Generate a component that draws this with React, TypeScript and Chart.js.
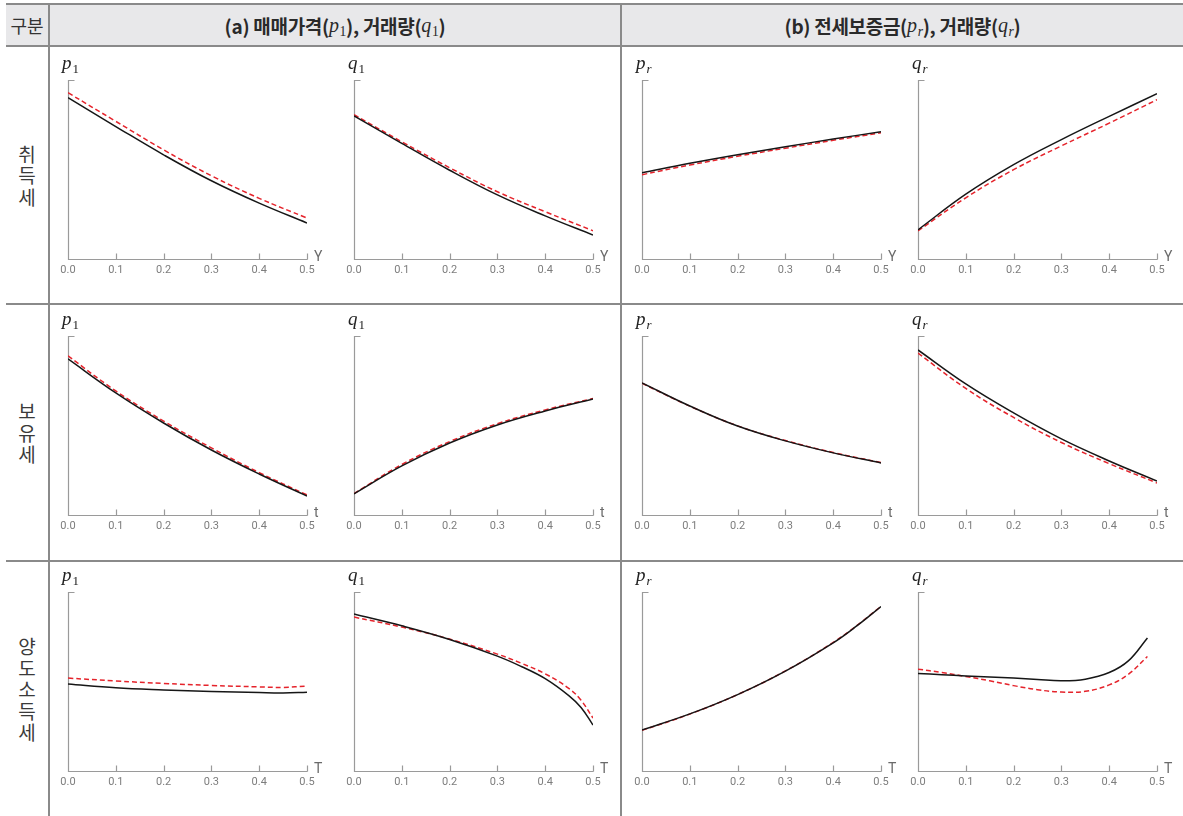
import React, { useEffect, useRef } from "react";
import { Chart, registerables } from "chart.js";

Chart.register(...registerables);

// ---------- data ----------
const xTickValues = [0, 0.1, 0.2, 0.3, 0.4, 0.5];
const xsStep = [0, 0.1, 0.2, 0.3, 0.4, 0.5];
const xsTail = [0, 0.1, 0.2, 0.3, 0.4, 0.45, 0.5];
const xsTailFine = [0, 0.1, 0.2, 0.3, 0.35, 0.4, 0.45, 0.475, 0.5];
const xsFine = [0, 0.05, 0.1, 0.15, 0.2, 0.25, 0.3, 0.35, 0.4, 0.44, 0.48];

const rowLabels = ["취득세", "보유세", "양도소득세"];
const xVars = ["Y", "t", "T"];

// 취득세 (x = Y)
const acqP1Solid = [90.1, 74.0, 58.2, 43.7, 31.2, 20.1];
const acqP1Dashed = [92.9, 76.9, 61.0, 46.5, 33.9, 22.9];
const acqQ1Solid = [80.0, 64.6, 49.6, 35.8, 24.1, 13.4];
const acqQ1Dashed = [80.6, 65.5, 51.0, 37.6, 26.4, 15.8];
const acqPrSolid = [48.2, 53.5, 58.3, 62.7, 67.0, 71.1];
const acqPrDashed = [47.1, 52.5, 57.4, 61.9, 66.3, 70.5];
const acqQrSolid = [16.3, 36.2, 52.7, 66.7, 79.7, 92.3];
const acqQrDashed = [15.7, 34.2, 49.9, 63.2, 75.9, 89.0];

// 보유세 (x = t)
const holdP1Solid = [87.2, 68.2, 51.4, 36.3, 22.9, 10.6];
const holdP1Dashed = [88.9, 69.3, 52.5, 37.5, 23.7, 11.2];
const holdQ1Solid = [11.8, 27.4, 40.2, 50.3, 58.1, 64.8];
const holdQ1Dashed = [12.0, 28.2, 41.0, 51.0, 58.7, 65.1];
const holdPrSolid = [73.8, 60.9, 49.7, 41.4, 34.7, 29.1];
const holdPrDashed = [73.6, 60.8, 49.8, 41.6, 34.9, 29.3];
const holdQrSolid = [92.2, 73.2, 57.0, 42.5, 30.2, 19.0];
const holdQrDashed = [90.5, 70.7, 54.5, 40.5, 28.7, 17.9];

// 양도소득세 (x = T)
const capP1Solid = [48.6, 46.5, 45.3, 44.4, 43.8, 43.6, 44.0];
const capP1Dashed = [51.9, 50.3, 48.9, 47.8, 47.0, 46.7, 47.5];
const capQ1Solid = [87.7, 81.1, 73.5, 64.2, 58.4, 51.6, 42.0, 35.5, 25.7];
const capQ1Dashed = [86.0, 80.4, 73.7, 65.3, 60.2, 54.3, 46.0, 39.5, 29.6];
const capPrSolid = [22.9, 31.9, 42.7, 55.8, 71.6, 81.2, 91.9];
const capPrDashed = [22.7, 31.8, 42.7, 55.9, 71.8, 81.4, 92.0];
const capQrSolid = [54.5, 53.8, 53.1, 52.5, 51.9, 51.1, 50.4, 51.3, 55.0, 61.5, 74.3];
const capQrDashed = [56.9, 55.0, 52.8, 50.4, 47.7, 45.4, 44.1, 44.5, 48.1, 54.0, 64.0];

// ---------- layout ----------
const COL_LEFT = [68, 354, 642, 918];
const ROW_TOP = [80, 336, 592];
const PLOT_W = 239;
const PLOT_H = 179;
const PAD_L = 20;
const PAD_R = 20;
const PAD_T = 10;
const XAXIS_H = 20;

type VarSpec = { v: string; sub: string; subItalic: boolean };
const yVars: VarSpec[] = [
  { v: "p", sub: "1", subItalic: false },
  { v: "q", sub: "1", subItalic: false },
  { v: "p", sub: "r", subItalic: true },
  { v: "q", sub: "r", subItalic: true },
];

type PanelSpec = {
  xs: number[];
  solid: number[];
  dashed: number[];
};

const panels: PanelSpec[][] = [
  [
    { xs: xsStep, solid: acqP1Solid, dashed: acqP1Dashed },
    { xs: xsStep, solid: acqQ1Solid, dashed: acqQ1Dashed },
    { xs: xsStep, solid: acqPrSolid, dashed: acqPrDashed },
    { xs: xsStep, solid: acqQrSolid, dashed: acqQrDashed },
  ],
  [
    { xs: xsStep, solid: holdP1Solid, dashed: holdP1Dashed },
    { xs: xsStep, solid: holdQ1Solid, dashed: holdQ1Dashed },
    { xs: xsStep, solid: holdPrSolid, dashed: holdPrDashed },
    { xs: xsStep, solid: holdQrSolid, dashed: holdQrDashed },
  ],
  [
    { xs: xsTail, solid: capP1Solid, dashed: capP1Dashed },
    { xs: xsTailFine, solid: capQ1Solid, dashed: capQ1Dashed },
    { xs: xsTail, solid: capPrSolid, dashed: capPrDashed },
    { xs: xsFine, solid: capQrSolid, dashed: capQrDashed },
  ],
];

const axesPlugin = {
  id: "customAxes",
  beforeDatasetsDraw(chart: any) {
    const { ctx, scales } = chart;
    const x = scales.x;
    const y = scales.y;
    const x0 = Math.round(x.getPixelForValue(0)) + 0.5;
    const x1 = Math.round(x.getPixelForValue(0.5)) + 0.5;
    const yb = Math.round(y.getPixelForValue(0)) + 0.5;
    const yt = Math.round(y.getPixelForValue(100)) + 0.5;
    ctx.save();
    ctx.strokeStyle = "#9a9a9a";
    ctx.lineWidth = 1.2;
    ctx.beginPath();
    ctx.moveTo(x0 + 6, yt);
    ctx.lineTo(x0, yt);
    ctx.lineTo(x0, yb);
    ctx.lineTo(x1, yb);
    x.ticks.forEach((t: any) => {
      if (t.value > 0) {
        const px = Math.round(x.getPixelForValue(t.value)) + 0.5;
        ctx.moveTo(px, yb);
        ctx.lineTo(px, yb - 6);
      }
    });
    ctx.stroke();
    ctx.restore();
  },
};

function Panel({ spec }: { spec: PanelSpec }) {
  const ref = useRef<HTMLCanvasElement | null>(null);
  useEffect(() => {
    if (!ref.current) return;
    const chart = new Chart(ref.current, {
      type: "line",
      data: {
        datasets: [
          {
            data: spec.xs.map((x, i) => ({ x, y: spec.solid[i] })),
            borderColor: "#161616",
            borderWidth: 1.5,
            pointRadius: 0,
            tension: 0.4,
            fill: false,
          },
          {
            data: spec.xs.map((x, i) => ({ x, y: spec.dashed[i] })),
            borderColor: "#e5232b",
            borderWidth: 1.5,
            borderDash: [5, 3],
            pointRadius: 0,
            tension: 0.4,
            fill: false,
          },
        ],
      },
      options: {
        animation: false,
        responsive: false,
        devicePixelRatio: 1,
        layout: { padding: { left: PAD_L, right: PAD_R, top: PAD_T, bottom: 0 } },
        plugins: { legend: { display: false }, tooltip: { enabled: false } },
        scales: {
          x: {
            type: "linear",
            min: 0,
            max: 0.5,
            afterBuildTicks: (scale: any) => {
              scale.ticks = xTickValues.map((v) => ({ value: v }));
            },
            afterFit: (scale: any) => {
              scale.height = XAXIS_H;
            },
            ticks: {
              callback: (v: any) => Number(v).toFixed(1),
              color: "#7d7d7d",
              font: { family: "Roboto", size: 11 },
              padding: 5,
              maxRotation: 0,
              autoSkip: false,
            },
            grid: { display: false, drawTicks: false },
            border: { display: false },
          },
          y: {
            display: false,
            min: 0,
            max: 100,
          },
        },
      } as any,
      plugins: [axesPlugin],
    });
    return () => chart.destroy();
  }, [spec]);
  return (
    <canvas
      ref={ref}
      width={PLOT_W + PAD_L + PAD_R}
      height={PLOT_H + PAD_T + XAXIS_H}
      style={{ display: "block", width: PLOT_W + PAD_L + PAD_R, height: PLOT_H + PAD_T + XAXIS_H }}
    />
  );
}

function MathVar({ spec, size }: { spec: VarSpec; size: number }) {
  return (
    <span style={{ fontFamily: '"Liberation Serif", "DejaVu Serif", serif', fontStyle: "italic", fontWeight: 400, fontSize: size }}>
      {spec.v}
      <span
        style={{
          fontSize: size * 0.68,
          fontStyle: spec.subItalic ? "italic" : "normal",
          position: "relative",
          top: size * 0.22,
          marginLeft: 1,
        }}
      >
        {spec.sub}
      </span>
    </span>
  );
}

const LINE = "#8a8a8a";

export default function App() {
  const sans = '"Noto Sans CJK KR", "Noto Sans", sans-serif';
  return (
    <div style={{ position: "fixed", left: 0, top: 0, width: 1183, height: 816, background: "#fff", overflow: "hidden" }}>
      {/* header background */}
      <div style={{ position: "absolute", left: 6, top: 5, width: 1177, height: 40, background: "#e8e8ea" }} />
      {/* horizontal lines */}
      <div style={{ position: "absolute", left: 6, top: 3, width: 1177, height: 2, background: LINE }} />
      <div style={{ position: "absolute", left: 6, top: 45, width: 1177, height: 2, background: LINE }} />
      <div style={{ position: "absolute", left: 6, top: 303, width: 1177, height: 2, background: LINE }} />
      <div style={{ position: "absolute", left: 6, top: 560, width: 1177, height: 2, background: LINE }} />
      {/* vertical lines */}
      <div style={{ position: "absolute", left: 48, top: 3, width: 2, height: 813, background: LINE }} />
      <div style={{ position: "absolute", left: 620, top: 3, width: 2, height: 813, background: LINE }} />

      {/* header texts */}
      <div style={{ position: "absolute", left: 6, top: 5, width: 42, height: 40, display: "flex", alignItems: "center", justifyContent: "center", fontFamily: sans, fontSize: 18, color: "#333" }}>
        구분
      </div>
      <div style={{ position: "absolute", left: 50, top: 5, width: 570, height: 40, display: "flex", alignItems: "center", justifyContent: "center", fontFamily: sans, fontSize: 19, fontWeight: 700, color: "#2a2a2a", whiteSpace: "pre", letterSpacing: -0.3 }}>
        <span>(a) 매매가격(</span>
        <MathVar spec={yVars[0]} size={20} />
        <span>), 거래량(</span>
        <MathVar spec={yVars[1]} size={20} />
        <span>)</span>
      </div>
      <div style={{ position: "absolute", left: 622, top: 5, width: 561, height: 40, display: "flex", alignItems: "center", justifyContent: "center", fontFamily: sans, fontSize: 19, fontWeight: 700, color: "#2a2a2a", whiteSpace: "pre", letterSpacing: -0.3 }}>
        <span>(b) 전세보증금(</span>
        <MathVar spec={yVars[2]} size={20} />
        <span>), 거래량(</span>
        <MathVar spec={yVars[3]} size={20} />
        <span>)</span>
      </div>

      {/* row labels */}
      {rowLabels.map((lab, r) => {
        const top = r === 0 ? 47 : r === 1 ? 305 : 562;
        const bottom = r === 0 ? 303 : r === 1 ? 560 : 816;
        return (
          <div
            key={lab}
            style={{ position: "absolute", left: 6, top, width: 42, height: bottom - top, display: "flex", flexDirection: "column", alignItems: "center", justifyContent: "center", fontFamily: sans, fontSize: 19, lineHeight: "21.5px", color: "#3a3a3a" }}
          >
            {Array.from(lab).map((ch, i) => (
              <span key={i}>{ch}</span>
            ))}
          </div>
        );
      })}

      {/* panels */}
      {panels.map((row, r) =>
        row.map((spec, c) => {
          const left = COL_LEFT[c];
          const top = ROW_TOP[r];
          return (
            <React.Fragment key={`${r}-${c}`}>
              <div style={{ position: "absolute", left: left - PAD_L, top: top - PAD_T }}>
                <Panel spec={spec} />
              </div>
              <div style={{ position: "absolute", left: left - 6, top: top - 27, lineHeight: "19px", color: "#222", whiteSpace: "nowrap" }}>
                <MathVar spec={yVars[c]} size={19} />
              </div>
              <div style={{ position: "absolute", left: left + PLOT_W + 7, top: top + PLOT_H - 11, fontFamily: "Roboto, sans-serif", fontSize: 14, lineHeight: "16px", color: "#6a6a6a" }}>
                {xVars[r]}
              </div>
            </React.Fragment>
          );
        })
      )}
    </div>
  );
}
